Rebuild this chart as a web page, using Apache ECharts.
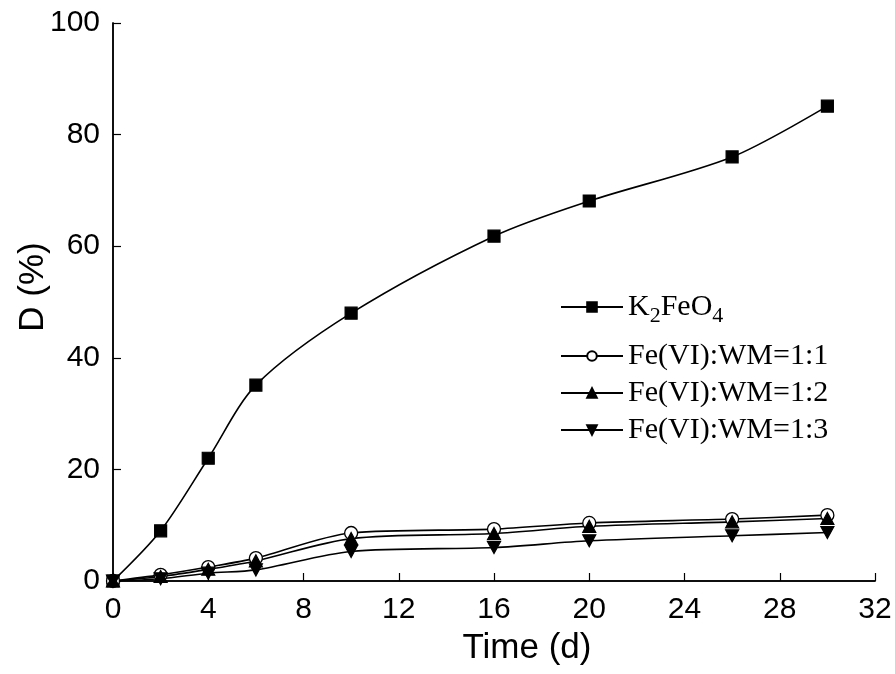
<!DOCTYPE html>
<html><head><meta charset="utf-8">
<script src="https://cdn.jsdelivr.net/npm/echarts@6/dist/echarts.min.js"></script>
<style>html,body{margin:0;padding:0;background:#fff}#c{width:895px;height:674px}</style>
</head><body><div id="c"></div>
<script>
const days = [0, 2, 4, 6, 10, 16, 20, 26, 30];
const k2feo4 = [0, 9.0, 22.0, 35.1, 48.0, 61.8, 68.1, 76.0, 85.1];
const wm11 = [0, 1.1, 2.5, 4.1, 8.6, 9.3, 10.4, 11.1, 11.8];
const wm12 = [0, 0.8, 2.1, 3.6, 7.6, 8.5, 9.8, 10.6, 11.2];
const wm13 = [0, 0.4, 1.4, 2.0, 5.3, 6.0, 7.2, 8.1, 8.7];
const xTicks = [0, 4, 8, 12, 16, 20, 24, 28, 32];
const yTicks = [0, 20, 40, 60, 80, 100];

const pairs = v => days.map((d, i) => [d, v[i]]);
const tri = 'path://M0,0 L10,0 L5,-9 Z';
const triDown = 'path://M0,0 L10,0 L5,9 Z';

const base = {
  type: 'line', smooth: 0.3, symbolSize: 12,
  lineStyle: { color: '#000', width: 1.6 },
  itemStyle: { color: '#000', borderColor: '#000', borderWidth: 1.2 },
  z: 3
};
const chart = echarts.init(document.getElementById('c'));
chart.setOption({
  animation: false,
  backgroundColor: '#fff',
  grid: { left: 113, right: 20, top: 23, bottom: 93, containLabel: false, outerBoundsMode: 'none' },
  legend: [{
    data: ['K2FeO4'], orient: 'vertical', left: 560, top: 292, padding: 0,
    itemWidth: 62, itemHeight: 12, itemGap: 7, itemTextGap: 6,
    textStyle: { fontFamily: 'Liberation Serif', fontSize: 30, color: '#000',
      rich: { sub: { fontFamily: 'Liberation Serif', fontSize: 22, verticalAlign: 'bottom', padding: [18, 0, 0, 0] } } },
    formatter: () => 'K{sub|2}FeO{sub|4}'
  }, {
    data: ['Fe(VI):WM=1:1', 'Fe(VI):WM=1:2', 'Fe(VI):WM=1:3'],
    orient: 'vertical', left: 560, top: 341, itemGap: 7, itemTextGap: 6, padding: 0,
    itemWidth: 62, itemHeight: 12,
    textStyle: { fontFamily: 'Liberation Serif', fontSize: 30, color: '#000' }
  }],
  xAxis: [{
    type: 'value', min: 0, max: 32, interval: 4,
    name: 'Time (d)', nameLocation: 'middle', nameGap: 50, nameMoveOverlap: false,
    nameTextStyle: { fontFamily: 'Liberation Sans', fontSize: 35, color: '#000', padding: [0, 0, 0, 66] },
    axisLine: { lineStyle: { color: '#000', width: 1.5 } },
    axisTick: { inside: true, length: 8, lineStyle: { color: '#000', width: 1.2 } },
    axisLabel: { fontFamily: 'Liberation Sans', fontSize: 30, color: '#000', margin: 14,
      customValues: xTicks },
    splitLine: { show: false }
  }, {
    type: 'value', min: 0, max: 32, position: 'top',
    axisLine: { lineStyle: { color: '#000', width: 1.5 } },
    axisTick: { show: false }, axisLabel: { show: false }, splitLine: { show: false }
  }],
  yAxis: [{
    type: 'value', min: 0, max: 100, interval: 20,
    name: 'D (%)', nameLocation: 'middle', nameGap: 62, nameRotate: 90, nameMoveOverlap: false,
    nameTextStyle: { fontFamily: 'Liberation Sans', fontSize: 35, color: '#000', padding: [0, 0, 0, 30] },
    axisLine: { lineStyle: { color: '#000', width: 1.5 } },
    axisTick: { inside: true, length: 8, lineStyle: { color: '#000', width: 1.2 } },
    axisLabel: { fontFamily: 'Liberation Sans', fontSize: 30, color: '#000', margin: 13,
      customValues: yTicks },
    splitLine: { show: false }
  }, {
    type: 'value', min: 0, max: 100, position: 'right',
    axisLine: { lineStyle: { color: '#000', width: 1.5 } },
    axisTick: { show: false }, axisLabel: { show: false }, splitLine: { show: false }
  }],
  series: [
    Object.assign({}, base, { name: 'K2FeO4', data: pairs(k2feo4), symbol: 'rect', symbolSize: 12 }),
    Object.assign({}, base, { name: 'Fe(VI):WM=1:1', data: pairs(wm11), symbol: 'circle', symbolSize: 13,
      itemStyle: { color: '#fff', borderColor: '#000', borderWidth: 1.3 } }),
    Object.assign({}, base, { name: 'Fe(VI):WM=1:2', data: pairs(wm12), symbol: tri, symbolSize: [13, 12] }),
    Object.assign({}, base, { name: 'Fe(VI):WM=1:3', data: pairs(wm13), symbol: triDown, symbolSize: [13, 12] })
  ]
});
</script></body></html>
